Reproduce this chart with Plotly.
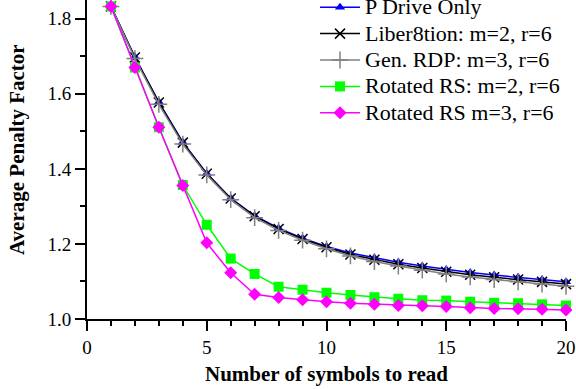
import plotly.graph_objects as go

x_vals = list(range(1, 21))

p_drive = [1.833, 1.698, 1.578, 1.471, 1.388, 1.322, 1.275, 1.242, 1.215, 1.193,
           1.176, 1.163, 1.151, 1.141, 1.132, 1.124, 1.117, 1.111, 1.105, 1.099]
liber8tion = [1.833, 1.697, 1.577, 1.470, 1.387, 1.321, 1.274, 1.240, 1.213, 1.191,
              1.172, 1.158, 1.146, 1.136, 1.126, 1.118, 1.111, 1.105, 1.099, 1.093]
gen_rdp = [1.833, 1.694, 1.572, 1.466, 1.384, 1.318, 1.270, 1.236, 1.210, 1.187,
           1.168, 1.153, 1.141, 1.130, 1.120, 1.112, 1.105, 1.099, 1.093, 1.087]
rot_rs_m2 = [1.833, 1.670, 1.511, 1.357, 1.251, 1.161, 1.120, 1.086, 1.078, 1.070,
             1.064, 1.058, 1.054, 1.050, 1.049, 1.046, 1.043, 1.042, 1.039, 1.036]
rot_rs_m3 = [1.833, 1.670, 1.511, 1.356, 1.203, 1.123, 1.066, 1.057, 1.051, 1.046,
             1.042, 1.039, 1.036, 1.035, 1.033, 1.030, 1.028, 1.027, 1.026, 1.024]

series_names = ["P Drive Only", "Liber8tion: m=2, r=6", "Gen. RDP: m=3, r=6",
                "Rotated RS: m=2, r=6", "Rotated RS m=3, r=6"]
series_values = [p_drive, liber8tion, gen_rdp, rot_rs_m2, rot_rs_m3]
colors = ["#0000ff", "#000000", "#808080", "#00ff00", "#ff00ff"]
symbols = ["triangle-up", "x-thin", "cross-thin", "square", "diamond"]
sizes = [9, 10, 12, 10, 10]

fig = go.Figure()
for name, vals, c, s, sz in zip(series_names, series_values, colors, symbols, sizes):
    marker = dict(symbol=s, size=sz, color=c)
    if s.endswith("thin"):
        marker["line"] = dict(color=c, width=1.5)
    fig.add_trace(go.Scatter(
        x=x_vals, y=vals, name='<span style="font-size:22px">' + name + '</span>',
        mode="lines+markers",
        line=dict(color=c, width=1.5), marker=marker, cliponaxis=False,
    ))

font_family = "Liberation Serif, serif"
fig.update_layout(
    width=576, height=389,
    margin=dict(l=87, r=10, t=0, b=70),
    paper_bgcolor="white", plot_bgcolor="white",
    font=dict(family=font_family, size=19, color="black"),
    showlegend=True,
    legend=dict(x=0.476, y=1.0, xanchor="left", yanchor="top",
                font=dict(size=18, family=font_family),
                bgcolor="rgba(0,0,0,0)", tracegroupgap=0, itemwidth=40),
    xaxis=dict(
        range=[0, 20], tickvals=[0, 5, 10, 15, 20], ticks="outside", ticklen=10,
        tickwidth=1.5, tickcolor="black", showline=True, linecolor="black", linewidth=2,
        showgrid=False, zeroline=False,
        minor=dict(dtick=1, ticks="outside", ticklen=5, tickwidth=1.5, tickcolor="black", showgrid=False),
        title=dict(text="<b>Number of symbols to read</b>", font=dict(size=21, family=font_family), standoff=10),
        tickfont=dict(size=19, family=font_family),
    ),
    yaxis=dict(
        range=[1.0, 1.85], tickvals=[1.0, 1.2, 1.4, 1.6, 1.8], ticktext=["1.0", "1.2", "1.4", "1.6", "1.8"],
        ticks="outside", ticklen=10, tickwidth=1.5, tickcolor="black",
        showline=True, linecolor="black", linewidth=2, showgrid=False, zeroline=False,
        minor=dict(tickvals=[1.1, 1.3, 1.5, 1.7], ticks="outside", ticklen=5, tickwidth=1.5,
                   tickcolor="black", showgrid=False),
        tickfont=dict(size=19, family=font_family),
    ),
    annotations=[dict(
        text="<b>Average Penalty Factor</b>", textangle=-90, xref="paper", yref="paper",
        x=-87 / 479 + 17 / 479, y=1 - 150 / 319, xanchor="center", yanchor="middle",
        showarrow=False, font=dict(size=21, family=font_family),
    )],
)

post = (
    "document.body.style.margin='0';document.body.style.overflow='hidden';"
    "var g=document.querySelector('g.legend');"
    "if(g){var t=g.getAttribute('transform')||'';"
    "var m=/translate\\(\\s*([-\\d.eE]+)[\\s,]+([-\\d.eE]+)\\s*\\)/.exec(t);"
    "if(m){g.setAttribute('transform','translate('+m[1]+','+(parseFloat(m[2])-11)+')');}}"
)

fig.write_html("out.html", config={"displayModeBar": False}, post_script=post)
